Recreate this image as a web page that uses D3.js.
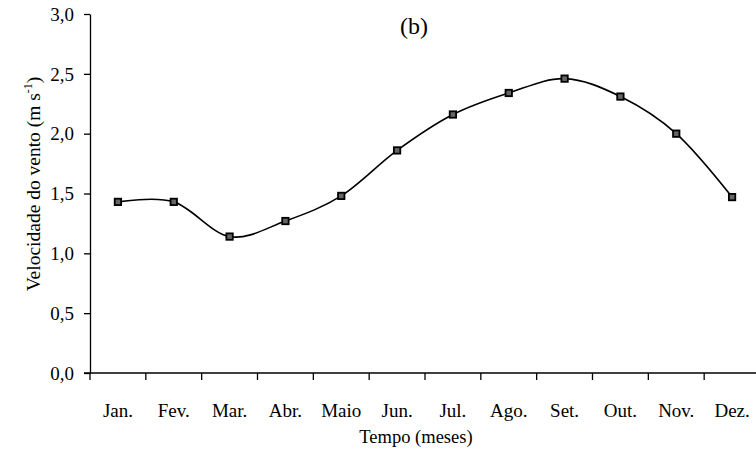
<!DOCTYPE html>
<html><head><meta charset="utf-8">
<script src="https://cdn.jsdelivr.net/npm/d3@7"></script>
<style>body{margin:0;background:#fff}svg{display:block}svg text{font-family:"Liberation Serif","Times New Roman",serif !important;fill:#000}</style>
</head><body><svg id="c" width="756" height="456"></svg>
<script>
const months = ["Jan.","Fev.","Mar.","Abr.","Maio","Jun.","Jul.","Ago.","Set.","Out.","Nov.","Dez."];
const values = [1.43,1.43,1.14,1.27,1.48,1.86,2.16,2.34,2.46,2.31,2.00,1.47];
const yTicks = [0,0.5,1.0,1.5,2.0,2.5,3.0];

(function(){
const svg = d3.select("#c");
const mLeft = 90, mRight = 760, mTop = 14, mBottom = 373;
const x = d3.scaleBand().domain(months).range([mLeft, mRight]);
const y = d3.scaleLinear().domain([0,3]).range([mBottom, mTop]);
const fmt = v => d3.format(".1f")(v).replace(".", ",");
const FS = 19;

// y axis
const ya = svg.append("g").attr("transform",`translate(${mLeft},0)`)
  .call(d3.axisLeft(y).tickValues(yTicks).tickFormat(fmt).tickSize(6).tickSizeOuter(0));
ya.attr("font-family",null).attr("font-size",null);
ya.select(".domain").attr("stroke","#000").attr("stroke-width",1.3);
ya.selectAll(".tick line").attr("stroke","#000").attr("stroke-width",1.3);
ya.selectAll(".tick text").attr("font-size",FS).attr("x",-16).attr("dy","0.33em");

// x axis with ticks at band boundaries
const xa = svg.append("g").attr("transform",`translate(0,${mBottom})`);
xa.append("line").attr("x1",mLeft-6).attr("x2",756).attr("y1",0).attr("y2",0).attr("stroke","#000").attr("stroke-width",1.3);
const bounds = months.map(m => x(m));
xa.selectAll("line.t").data(bounds).join("line").attr("class","t")
  .attr("x1",d=>d).attr("x2",d=>d).attr("y1",0).attr("y2",7).attr("stroke","#000").attr("stroke-width",1.3);
xa.selectAll("text").data(months).join("text")
  .attr("x",d=>x(d)+x.bandwidth()/2).attr("y",44).attr("text-anchor","middle").attr("font-size",FS).text(d=>d);

// line
const line = d3.line().x((d,i)=>x(months[i])+x.bandwidth()/2).y(d=>y(d)).curve(d3.curveCardinal.tension(0));
svg.append("path").datum(values).attr("d",line).attr("fill","none").attr("stroke","#000").attr("stroke-width",1.6);

// markers
svg.selectAll("rect.m").data(values).join("rect").attr("class","m")
  .attr("x",(d,i)=>x(months[i])+x.bandwidth()/2-3.2).attr("y",d=>y(d)-3.2)
  .attr("width",6.4).attr("height",6.4).attr("fill","#666").attr("stroke","#000").attr("stroke-width",1.8);

// titles
svg.append("text").attr("x",414).attr("y",34).attr("text-anchor","middle").attr("font-size",24).text("(b)");
svg.append("text").attr("x",416).attr("y",443).attr("text-anchor","middle").attr("font-size",18.5).text("Tempo (meses)");
const yt = svg.append("text").attr("transform","translate(40,184) rotate(-90)").attr("text-anchor","middle").attr("font-size",19.5);
yt.append("tspan").text("Velocidade do vento (m s");
yt.append("tspan").attr("font-size",12).attr("dy",-8).text("-1");
yt.append("tspan").attr("dy",8).text(")");
})();
</script></body></html>
